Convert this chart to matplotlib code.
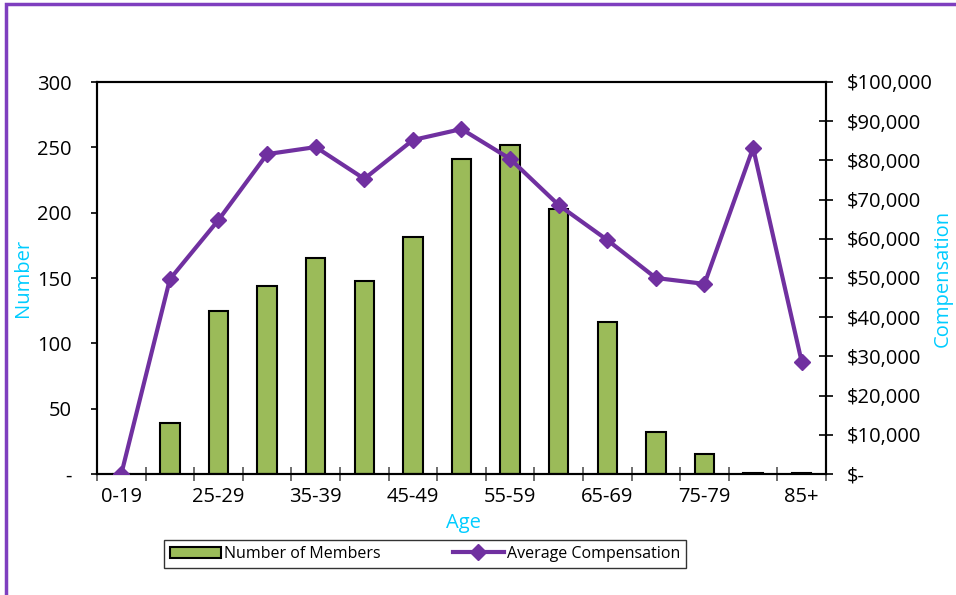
import numpy as np
import matplotlib.pyplot as plt
from matplotlib.patches import Rectangle

# Datos
age_groups = ['0-19', '20-24', '25-29', '30-34', '35-39', '40-44', '45-49', '50-54',
              '55-59', '60-64', '65-69', '70-74', '75-79', '80-84', '85+']
members = [0, 39, 125, 144, 165, 148, 181, 241, 252, 203, 116, 32, 15, 1, 1]
avg_comp = [0, 49700, 64800, 81600, 83400, 75300, 85200, 88000,
            80400, 68600, 59700, 50000, 48500, 83200, 28600]

plt.rcParams['font.family'] = ['Open Sans', 'DejaVu Sans']

fig = plt.figure(figsize=(9.56, 5.95), dpi=100)
ax = fig.add_axes([97 / 956, 1 - 474 / 595, 729 / 956, 392 / 595])
ax2 = ax.twinx()

x = np.arange(len(age_groups))
bars = ax.bar(x, members, width=0.4, color='#9BBB59', edgecolor='black',
              linewidth=1.5, label='Number of Members', zorder=2)
line, = ax2.plot(x, avg_comp, color='#7030A0', linewidth=3, marker='D',
                 markersize=8, label='Average Compensation', zorder=3)

ax.set_xlim(-0.5, len(age_groups) - 0.5)
ax.set_ylim(0, 300)
ax2.set_ylim(0, 100000)

# Eje izquierdo
left_ticks = np.arange(0, 301, 50)
ax.set_yticks(left_ticks)
ax.set_yticklabels(['-' if v == 0 else str(v) for v in left_ticks])
ax.tick_params(axis='y', direction='out', length=4.5, width=1.2, labelsize=14.5, pad=14)

# Eje derecho
right_ticks = np.arange(0, 100001, 10000)
ax2.set_yticks(right_ticks)
ax2.set_yticklabels(['$-' if v == 0 else '${:,}'.format(v) for v in right_ticks])
ax2.tick_params(axis='y', direction='inout', length=10, width=1.2, labelsize=14.5, pad=10)

# Eje x: marcas en los bordes de las categorías
ax.set_xticks(np.arange(-0.5, len(age_groups), 1))
ax.set_xticklabels([])
ax.set_xticks(x[::2], minor=True)
ax.set_xticklabels(age_groups[::2], minor=True)
ax.tick_params(axis='x', which='major', direction='inout', length=10, width=1.2, colors='#555555')
ax.tick_params(axis='x', which='minor', length=0, labelsize=14.5, pad=9)

for a in (ax, ax2):
    for s in a.spines.values():
        s.set_linewidth(1.5)

ax.set_xlabel('Age', color='#00CCFF', fontsize=14.5, va='center')
ax.xaxis.set_label_coords((463 - 97) / 729, -(523 - 474) / 392)
ax.set_ylabel('Number', color='#00CCFF', fontsize=14.5, va='center')
ax.yaxis.set_label_coords(-(97 - 23) / 729, 0.5)
ax2.set_ylabel('Compensation', color='#00CCFF', fontsize=14.5, va='center')
ax2.yaxis.set_label_coords((943 - 97) / 729, 0.5)

leg = fig.legend(handles=[bars, line], loc='center', ncol=2,
                 bbox_to_anchor=(425 / 956, 1 - 554 / 595), fontsize=11.5,
                 frameon=True, fancybox=False, edgecolor='black',
                 handlelength=3.2, handletextpad=0.2, columnspacing=4.5,
                 borderpad=0.35)
leg.get_frame().set_linewidth(1)

# Marco morado de la figura
fig.patches.append(Rectangle((6 / 956, -0.1), 1.2, 1.1 - 4 / 595, transform=fig.transFigure,
                             fill=False, edgecolor='#7F3FBF', linewidth=2.5))

fig.savefig('out.png', dpi=100)
